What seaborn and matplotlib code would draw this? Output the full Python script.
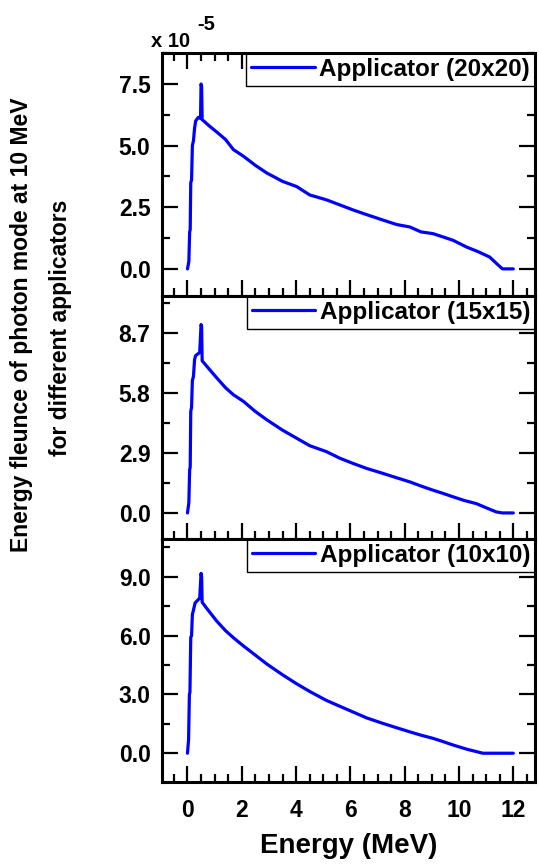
from matplotlib import pyplot as plt
from matplotlib import ticker
import seaborn as sns

# Energy (MeV) and energy fluence (x 1e-5)
energy_20 = [0.0, 0.05, 0.08, 0.10, 0.12, 0.15, 0.18, 0.22, 0.26, 0.30, 0.40, 0.48, 0.50, 0.52,
             0.54, 0.6, 0.8, 1.08, 1.4, 1.69, 2.06, 2.5, 2.92, 3.5, 4.02, 4.5, 5.12, 5.6, 6.1,
             6.6, 7.2, 7.7, 8.19, 8.6, 9.04, 9.4, 9.78, 10.27, 10.7, 11.13, 11.4, 11.6, 12.0]
fluence_20 = [0.0, 0.3, 1.5, 1.6, 3.5, 3.6, 5.0, 5.2, 5.7, 6.0, 6.15, 6.1, 7.5, 7.4,
              6.05, 6.0, 5.8, 5.55, 5.25, 4.84, 4.57, 4.2, 3.89, 3.55, 3.34, 3.0, 2.80, 2.6, 2.39,
              2.2, 1.98, 1.8, 1.7, 1.5, 1.43, 1.3, 1.16, 0.89, 0.7, 0.48, 0.2, 0.0, 0.0]

energy_15 = [0.0, 0.05, 0.08, 0.10, 0.12, 0.15, 0.18, 0.22, 0.26, 0.30, 0.45, 0.50, 0.52, 0.54,
             0.7, 1.08, 1.4, 1.69, 2.06, 2.5, 2.92, 3.5, 4.02, 4.5, 5.12, 5.6, 6.1, 6.6, 7.2,
             7.7, 8.19, 8.6, 9.04, 9.4, 9.78, 10.2, 10.64, 11.0, 11.37, 11.6, 12.0]
fluence_15 = [0.0, 0.5, 2.1, 2.2, 4.9, 5.1, 6.4, 6.6, 7.4, 7.6, 7.75, 9.1, 9.0, 7.35,
              7.1, 6.52, 6.05, 5.71, 5.39, 4.9, 4.5, 4.0, 3.61, 3.25, 2.96, 2.65, 2.39, 2.15, 1.91,
              1.7, 1.5, 1.3, 1.1, 0.95, 0.78, 0.6, 0.45, 0.25, 0.05, 0.0, 0.0]

energy_10 = [0.0, 0.04, 0.07, 0.09, 0.12, 0.15, 0.18, 0.22, 0.28, 0.45, 0.50, 0.52, 0.54,
             0.7, 1.08, 1.4, 1.69, 2.06, 2.5, 2.92, 3.5, 4.02, 4.5, 5.12, 5.6, 6.1, 6.6, 7.2,
             7.7, 8.19, 8.6, 9.04, 9.4, 9.78, 10.3, 10.88, 12.0]
fluence_10 = [0.0, 0.7, 3.0, 3.1, 5.9, 6.0, 7.07, 7.3, 7.66, 7.91, 9.17, 9.0, 7.7,
              7.4, 6.73, 6.25, 5.89, 5.47, 5.0, 4.55, 4.0, 3.54, 3.15, 2.69, 2.4, 2.1, 1.8, 1.52,
              1.3, 1.09, 0.92, 0.76, 0.6, 0.42, 0.2, 0.0, 0.0]

labels = ["Applicator (20x20)", "Applicator (15x15)", "Applicator (10x10)"]
y_steps = [2.5, 2.9, 3.0]
y_limits = [(-1.1, 8.76), (-1.26, 10.48), (-1.47, 10.92)]

sns.set_theme(style="ticks")
plt.rcParams["font.family"] = ["Liberation Sans", "DejaVu Sans"]
plt.rcParams["font.weight"] = "bold"
plt.rcParams["text.color"] = "black"
plt.rcParams["axes.labelcolor"] = "black"
plt.rcParams["xtick.color"] = "black"
plt.rcParams["ytick.color"] = "black"

fig = plt.figure(figsize=(5.39, 8.68), dpi=100)
gsp = fig.add_gridspec(3, 1, left=0.300, right=0.9926, top=0.939, bottom=0.099, hspace=0)
axes = [fig.add_subplot(gsp[i]) for i in range(3)]

panels = [(energy_20, fluence_20), (energy_15, fluence_15), (energy_10, fluence_10)]

for i, (axis, (x, y)) in enumerate(zip(axes, panels)):
    sns.lineplot(x=x, y=y, ax=axis, color="#0000ff", linewidth=2.3,
                 estimator=None, sort=False, label=labels[i])

    axis.set_xlim(-0.95, 12.8)
    axis.set_ylim(y_limits[i])
    axis.xaxis.set_major_locator(ticker.MultipleLocator(2))
    axis.xaxis.set_minor_locator(ticker.MultipleLocator(0.5))
    axis.yaxis.set_major_locator(ticker.MultipleLocator(y_steps[i]))
    axis.yaxis.set_minor_locator(ticker.MultipleLocator(y_steps[i] / 2))
    axis.yaxis.set_major_formatter(ticker.FormatStrFormatter("%.1f"))

    # Origin-style inward ticks on every side
    axis.tick_params(which="both", direction="in", width=1.6, colors="black",
                     left=True, right=True, bottom=True, top=(i == 0),
                     labelsize=16.5)
    axis.tick_params(which="major", length=11.5)
    axis.tick_params(which="minor", length=6)
    axis.tick_params(axis="y", pad=8)
    axis.tick_params(axis="x", pad=12, labelbottom=(i == 2))
    for spine in axis.spines.values():
        spine.set_linewidth(2.2)
        spine.set_color("black")
        spine.set_zorder(6)

    leg = axis.legend(loc="upper right", borderaxespad=0, frameon=True, fancybox=False,
                      edgecolor="black", framealpha=1, handlelength=2.6, handletextpad=0.2,
                      borderpad=0.2, prop=dict(weight="bold", size=17.5))
    leg.get_frame().set_linewidth(1.0)
    for t in leg.get_texts():
        t.set_color("black")
    axis.set_xlabel("")
    axis.set_ylabel("")

axes[2].set_xlabel("Energy (MeV)", fontsize=20, fontweight="bold", labelpad=8)

# Y label split over two lines, as in the original
fig.text(22 / 539, 1 - 325 / 868, "Energy fleunce of photon mode at 10 MeV",
         rotation=90, ha="center", va="center", fontsize=16.5, fontweight="bold")
fig.text(60 / 539, 1 - 328 / 868, "for different applicators",
         rotation=90, ha="center", va="center", fontsize=16.5, fontweight="bold")

# Scale factor
fig.text(151 / 539, 1 - 47 / 868, "x 10", ha="left", va="baseline",
         fontsize=14.5, fontweight="bold")
fig.text(197 / 539, 1 - 30 / 868, "-5", ha="left", va="baseline",
         fontsize=14.5, fontweight="bold")

fig.savefig("out.png", dpi=100)
